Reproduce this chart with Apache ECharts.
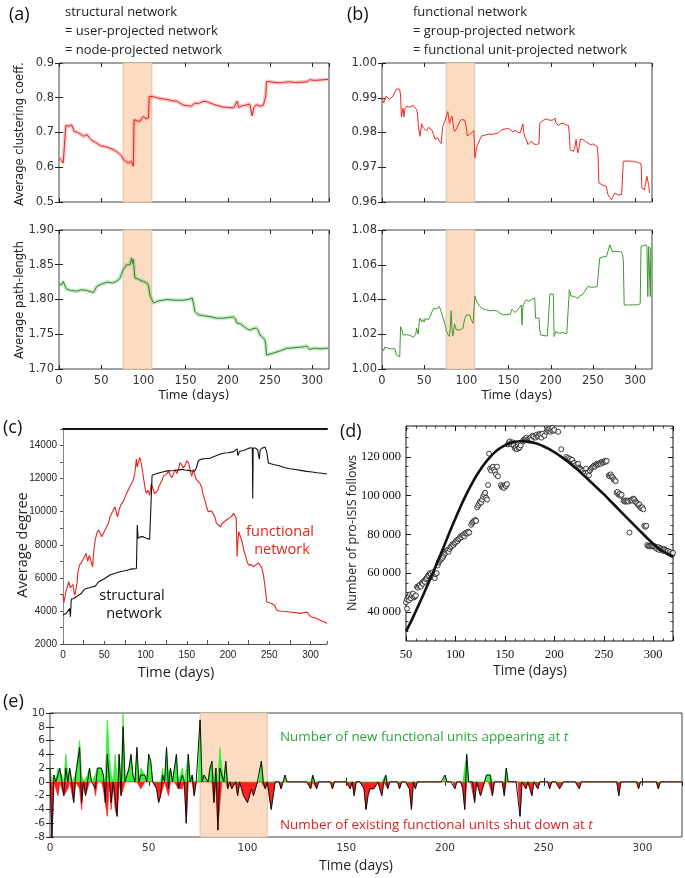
<!DOCTYPE html>
<html><head><meta charset="utf-8">
<script src="https://cdn.jsdelivr.net/npm/echarts@6/dist/echarts.min.js"></script>
<style>html,body{margin:0;padding:0;background:#fff}#c{width:685px;height:878px}</style>
</head><body><div id="c"></div>
<script>
// ---------------- DATA ----------------
const xTicksDays = [0, 50, 100, 150, 200, 250, 300];
const shadedPeriod = [76, 110];

// (a) structural network
const clusteringStructural = [[0,0.627],[3,0.62],[5,0.612],[7,0.607],[8,0.72],[9,0.722],[12,0.718],[15,0.722],[18,0.703],[22,0.7],[26,0.695],[29,0.689],[33,0.694],[36,0.685],[39,0.677],[43,0.672],[49,0.662],[54,0.66],[60,0.655],[65,0.65],[70,0.642],[73,0.636],[76,0.624],[79,0.617],[82,0.612],[84,0.615],[86,0.617],[88,0.603],[89,0.737],[91,0.736],[93,0.733],[96,0.732],[98,0.74],[100,0.746],[103,0.74],[106,0.742],[107,0.804],[109,0.806],[112,0.803],[116,0.8],[120,0.798],[128,0.795],[135,0.791],[140,0.79],[147,0.779],[152,0.777],[157,0.776],[161,0.785],[165,0.783],[170,0.789],[173,0.79],[178,0.786],[183,0.781],[187,0.778],[193,0.774],[200,0.772],[207,0.771],[209,0.774],[211,0.79],[213,0.772],[216,0.776],[220,0.778],[226,0.782],[228,0.78],[229,0.748],[231,0.772],[234,0.78],[238,0.776],[242,0.778],[244,0.795],[245,0.805],[246,0.847],[250,0.846],[256,0.844],[262,0.843],[266,0.844],[272,0.846],[280,0.844],[288,0.845],[294,0.846],[297,0.852],[302,0.85],[310,0.851],[319,0.853]];
const pathStructural = [[0,1.822],[3,1.821],[5,1.826],[7,1.82],[9,1.815],[14,1.813],[21,1.812],[27,1.814],[33,1.813],[38,1.811],[41,1.81],[43,1.815],[45,1.819],[50,1.822],[57,1.825],[63,1.824],[68,1.826],[72,1.83],[74,1.832],[76,1.843],[78,1.846],[80,1.85],[82,1.852],[84,1.85],[86,1.86],[87,1.852],[88,1.858],[90,1.831],[93,1.83],[96,1.828],[100,1.826],[104,1.824],[106,1.82],[108,1.805],[110,1.8],[112,1.795],[118,1.798],[128,1.8],[138,1.799],[147,1.799],[153,1.8],[158,1.802],[160,1.79],[161,1.783],[165,1.778],[170,1.777],[180,1.775],[187,1.773],[195,1.773],[200,1.774],[207,1.775],[209,1.772],[211,1.766],[215,1.765],[219,1.761],[223,1.758],[226,1.756],[230,1.758],[234,1.759],[236,1.756],[238,1.749],[241,1.746],[244,1.742],[245,1.735],[246,1.72],[248,1.72],[254,1.723],[262,1.726],[270,1.73],[274,1.73],[282,1.731],[290,1.732],[294,1.733],[297,1.728],[302,1.73],[310,1.729],[319,1.73]];

// (b) functional network
const clusteringFunctional = [[0,0.990],[2,0.9885],[3,0.989],[5,0.9905],[7,0.990],[9,0.9895],[11,0.9895],[13,0.9905],[15,0.990],[17,0.9925],[19,0.993],[21,0.9925],[22,0.9905],[23,0.9846],[25,0.987],[26,0.9845],[27,0.9866],[29,0.9875],[33,0.9873],[35,0.9872],[37,0.9878],[39,0.988],[41,0.9866],[42,0.9856],[43,0.982],[45,0.9789],[47,0.9825],[49,0.9813],[51,0.981],[53,0.9805],[55,0.9815],[57,0.981],[59,0.9808],[61,0.9795],[63,0.978],[66,0.9785],[68,0.9775],[70,0.9768],[72,0.9818],[74,0.983],[76,0.9827],[78,0.986],[80,0.9826],[81,0.9836],[83,0.9847],[85,0.981],[86,0.9803],[88,0.981],[90,0.9812],[92,0.983],[94,0.9837],[98,0.9836],[100,0.9815],[101,0.979],[104,0.9795],[106,0.98],[109,0.9805],[110,0.9727],[112,0.9755],[113,0.9762],[116,0.978],[118,0.979],[120,0.9794],[126,0.9795],[132,0.9795],[138,0.9799],[142,0.9808],[144,0.9813],[150,0.9812],[152,0.981],[155,0.9802],[158,0.9806],[161,0.98],[164,0.98],[167,0.9825],[168,0.98],[169,0.9789],[171,0.978],[173,0.9765],[175,0.977],[177,0.9775],[179,0.9768],[183,0.9765],[186,0.9768],[187,0.9827],[191,0.9835],[195,0.9839],[199,0.9835],[203,0.9836],[205,0.9842],[206,0.9829],[208,0.9833],[209,0.982],[212,0.9826],[215,0.9827],[218,0.9822],[221,0.982],[222,0.9795],[223,0.975],[225,0.9755],[227,0.9746],[229,0.9762],[230,0.978],[231,0.976],[232,0.9741],[234,0.976],[235,0.9781],[238,0.978],[241,0.9774],[244,0.977],[247,0.9765],[250,0.9767],[255,0.976],[256,0.9735],[257,0.9655],[262,0.9648],[266,0.9645],[267,0.963],[268,0.962],[270,0.9616],[272,0.9607],[274,0.961],[276,0.9626],[280,0.962],[284,0.9622],[285,0.962],[286,0.9717],[292,0.9718],[298,0.9717],[303,0.9714],[307,0.971],[308,0.964],[311,0.9635],[313,0.963],[314,0.9674],[315,0.966],[316,0.965],[317,0.9626]];
const pathFunctional = [[0,1.0119],[2,1.0105],[3,1.0125],[5,1.0122],[7,1.012],[9,1.011],[11,1.0115],[13,1.012],[15,1.0118],[17,1.008],[19,1.0078],[21,1.0071],[22,1.0244],[24,1.022],[25,1.0195],[27,1.0206],[29,1.0198],[31,1.0197],[33,1.0194],[35,1.0192],[37,1.0183],[39,1.0177],[40,1.02],[41,1.0235],[43,1.02],[44,1.027],[45,1.0292],[47,1.027],[48,1.0285],[50,1.027],[51,1.029],[53,1.029],[55,1.0285],[57,1.0302],[59,1.031],[61,1.035],[64,1.0345],[66,1.0355],[68,1.036],[70,1.033],[72,1.03],[74,1.027],[76,1.0225],[78,1.02],[80,1.0187],[81,1.025],[82,1.0335],[83,1.022],[84,1.019],[86,1.026],[88,1.0225],[90,1.0222],[93,1.0225],[96,1.0235],[98,1.029],[100,1.0312],[102,1.032],[104,1.031],[106,1.028],[108,1.0263],[110,1.0421],[112,1.039],[114,1.0375],[116,1.036],[118,1.035],[120,1.0345],[124,1.034],[128,1.0335],[132,1.0338],[136,1.0335],[140,1.032],[144,1.0312],[148,1.0312],[152,1.0315],[154,1.0345],[156,1.034],[158,1.0325],[160,1.0335],[163,1.0355],[165,1.0369],[166,1.0254],[167,1.036],[169,1.0385],[171,1.0398],[174,1.039],[177,1.04],[179,1.0395],[181,1.0408],[182,1.0292],[184,1.0295],[186,1.0295],[187,1.0225],[188,1.0196],[192,1.0192],[196,1.019],[198,1.019],[199,1.0431],[201,1.0431],[203,1.0431],[204,1.0187],[206,1.0215],[208,1.021],[210,1.0205],[212,1.0215],[214,1.021],[216,1.0202],[219,1.0203],[221,1.0205],[222,1.0456],[224,1.042],[226,1.0425],[228,1.0418],[230,1.0425],[232,1.0405],[234,1.042],[236,1.0415],[238,1.043],[240,1.0445],[242,1.046],[244,1.0475],[246,1.0465],[248,1.047],[252,1.0472],[255,1.0475],[257,1.0485],[258,1.0638],[262,1.0645],[266,1.0648],[268,1.068],[270,1.0715],[272,1.0705],[273,1.0675],[276,1.0677],[280,1.0675],[283,1.0677],[285,1.066],[286,1.0629],[287,1.0369],[292,1.0368],[298,1.0369],[303,1.037],[306,1.0375],[307,1.0706],[310,1.071],[313,1.0715],[314,1.07],[315,1.0417],[316,1.0706],[317,1.071],[318,1.0417],[318.5,1.07]];

// (c) average degree
const degreeStructural = [[0,3750],[2,3800],[4,3850],[6,3950],[8,4150],[9,3650],[10,4700],[13,4750],[16,4860],[19,4950],[22,5050],[25,5250],[28,5360],[32,5400],[36,5460],[39,5500],[41,5600],[43,5750],[45,5870],[50,5950],[57,6170],[63,6280],[69,6370],[75,6430],[81,6510],[85,6540],[89,6570],[90,9190],[91,8400],[94,8480],[97,8490],[101,8400],[105,8330],[107,8450],[108,12200],[112,12280],[118,12370],[122,12420],[126,12470],[131,12480],[136,12490],[140,12530],[144,12560],[148,12520],[152,12500],[156,12460],[160,12470],[162,12700],[164,13080],[168,13180],[172,13200],[178,13230],[184,13350],[191,13490],[196,13550],[200,13560],[204,13600],[207,13630],[209,13700],[211,13800],[212,13390],[214,13650],[219,13700],[223,13790],[227,13860],[229.5,13850],[230,10800],[230.5,13850],[233,13850],[236,13750],[237,13400],[238,13180],[239,13750],[242,13860],[245,13900],[247,13600],[249,12940],[255,12850],[262,12780],[268,12670],[275,12600],[282,12550],[288,12500],[295,12440],[302,12400],[308,12350],[314,12320],[320,12280]];
const degreeFunctional = [[0,4960],[1,4500],[2,4557],[3,5000],[4,5263],[5,5400],[7,5766],[8,5550],[9,5400],[10,5500],[12,5600],[13,5300],[14,4960],[15,5100],[17,5665],[18,6300],[20,6773],[22,6900],[24,7075],[26,7000],[28,7478],[29,7200],[30,7000],[32,7350],[34,7000],[36,6673],[37,7500],[39,8284],[41,8700],[43,8888],[45,8700],[47,8485],[49,8700],[51,8900],[53,9090],[55,9300],[57,9700],[59,9895],[61,10000],[63,10297],[65,9900],[66,9693],[68,10100],[70,10398],[72,10500],[74,10700],[76,11000],[77,11103],[79,11300],[81,11506],[83,11700],[85,11909],[87,12300],[89,13184],[90,12700],[91,12600],[92,13100],[93,13286],[95,12900],[96,12550],[98,11900],[100,11300],[101,11103],[103,11300],[105,11000],[107,11700],[109,11400],[111,11100],[113,11000],[115,11300],[116,11500],[118,11600],[120,11900],[122,12163],[124,12100],[126,12300],[128,12469],[130,12200],[132,12050],[134,12300],[136,12550],[138,12300],[140,12600],[142,12980],[144,12800],[146,12650],[148,12800],[150,13082],[152,12950],[153,12800],[155,12300],[156,12150],[158,12550],[160,12500],[161,12000],[163,11900],[166,11700],[168,11500],[170,11000],[172,10700],[174,10300],[176,9996],[178,9950],[180,10050],[182,10100],[184,9700],[186,9291],[188,9200],[191,9090],[193,9300],[195,9400],[198,9500],[201,9593],[204,9700],[207,9895],[209,9950],[210,9600],[211,7276],[212,8200],[213,8787],[215,8700],[217,8200],[219,7700],[221,7377],[223,7000],[225,6773],[228,6800],[231,6673],[234,6800],[237,6900],[239,6975],[241,6600],[243,6170],[245,5400],[247,4557],[250,4500],[253,4450],[255,4457],[257,4300],[259,4054],[262,4000],[266,3980],[272,3954],[278,3920],[284,3880],[288,3853],[292,3900],[296,3920],[298,3920],[300,3652],[304,3600],[308,3520],[312,3440],[316,3350],[320,3249]];

// (d) pro-ISIS follows
const followsObserved = [[50,45000],[51,41700],[51,46500],[52,47500],[53,48000],[53,46000],[54,49000],[55,47000],[56,48500],[57,49500],[58,47500],[59,48000],[60,48500],[61,53000],[62,52500],[63,53500],[64,54000],[65,53000],[66,55000],[67,54500],[68,56000],[69,55500],[70,57000],[71,57500],[72,58500],[73,59000],[74,60000],[75,59500],[76,58000],[77,60500],[78,58500],[79,57400],[80,59500],[81,60000],[82,64000],[83,65500],[84,66500],[85,67000],[86,67500],[87,68000],[88,69000],[89,70000],[90,70500],[91,71500],[92,72000],[93,71000],[94,72500],[95,73500],[96,74000],[97,75000],[98,74500],[99,75500],[100,76000],[101,77000],[102,76500],[103,77500],[104,78000],[105,79000],[106,78500],[107,79500],[108,80000],[109,79000],[110,80500],[111,81000],[112,80500],[113,81500],[114,81000],[116,85000],[117,86000],[118,86500],[119,87000],[120,87500],[121,87000],[122,94000],[123,95000],[124,96000],[125,97000],[126,96500],[127,98000],[128,99500],[129,100500],[130,101500],[131,99000],[132,98000],[133,105500],[134,121700],[135,114000],[136,113000],[137,114500],[138,115000],[139,113500],[140,112500],[141,111000],[142,115000],[143,110000],[146,105500],[147,104500],[148,105000],[149,104000],[150,105500],[151,105000],[152,106000],[153,126500],[154,127500],[155,128000],[156,127000],[157,126500],[158,127500],[159,126000],[160,124500],[161,125000],[162,124000],[163,125500],[164,124500],[165,125000],[166,126000],[168,128000],[169,129000],[170,128500],[171,129500],[172,130000],[173,129000],[174,128500],[175,129500],[176,130000],[177,129000],[178,131000],[179,130500],[181,130000],[182,131500],[183,130500],[184,131000],[185,132000],[186,131500],[187,130000],[188,132000],[190,131000],[192,133000],[193,134000],[194,133500],[195,134500],[196,133000],[197,134000],[198,135000],[199,133500],[200,134000],[204,133000],[207,124000],[212,120000],[213,119000],[214,119500],[215,118500],[216,119000],[217,118000],[218,118500],[219,116500],[220,117000],[221,115500],[222,116000],[223,115000],[224,116500],[225,114500],[226,114000],[227,113500],[228,112500],[229,113000],[230,112000],[231,111500],[232,114000],[233,111000],[234,112000],[235,110500],[236,113000],[237,114000],[238,114500],[239,115000],[240,115500],[241,115000],[242,116000],[243,116500],[244,116000],[245,116500],[246,117000],[247,116500],[248,117500],[249,117000],[250,117500],[251,118000],[252,117500],[253,118000],[255,110500],[256,110000],[257,111000],[258,110000],[259,109500],[260,108500],[261,108000],[262,107500],[263,101500],[264,102000],[265,100500],[266,101000],[267,100000],[268,100500],[270,97500],[271,97000],[272,97500],[273,97000],[274,97500],[275,97000],[276,81000],[277,97500],[278,98000],[279,97500],[280,98500],[281,98000],[282,97000],[283,96500],[284,96000],[285,95000],[286,95500],[287,94000],[288,93500],[289,94000],[290,93000],[291,84500],[292,84000],[293,84500],[294,74500],[295,74000],[296,74000],[297,73800],[298,74200],[299,74000],[300,73800],[301,74000],[302,73500],[303,73000],[304,72500],[305,73500],[306,72000],[307,73000],[308,72500],[309,72000],[310,71500],[311,72500],[312,72000],[313,71500],[314,71000],[315,71500],[316,70500],[317,71000],[318,70000],[319,69500],[320,70500]];
const followsFit = [[50,30000],[55,35000],[60,40500],[65,46000],[70,51800],[75,57600],[80,63600],[85,69800],[90,76000],[95,82300],[100,88300],[105,94200],[110,99700],[115,104700],[120,109300],[125,113300],[130,116900],[135,119900],[140,122500],[145,124500],[150,126000],[155,127100],[160,127800],[165,128100],[170,128100],[175,127800],[180,127200],[185,126400],[190,125300],[195,124000],[200,122500],[205,120800],[210,119000],[215,117100],[220,115000],[225,112800],[230,110400],[235,108000],[240,105600],[245,103200],[250,100800],[255,98200],[260,95600],[265,93000],[270,90400],[275,87800],[280,85200],[285,82600],[290,80100],[295,77600],[300,75200],[305,73000],[310,71200],[315,69800],[320,68600]];
const followsYTicks = [40000, 60000, 80000, 100000, 120000];

// (e) functional units appearing / shut down per day
const newUnits = [[0,2],[2,1],[4,2],[5,2],[6,1],[8,4],[9,1],[10,2],[13,1],[14,1],[15,6],[16,1],[19,1],[20,2],[23,1],[24,2],[25,2],[26,2],[27,2],[29,9],[30,4],[31,1],[33,4],[35,4],[37,10],[40,2],[41,4],[42,1],[44,5],[46,2],[47,2],[48,1],[50,4],[51,3],[57,2],[59,5],[60,1],[61,2],[64,4],[67,2],[70,4],[72,1],[76,9],[78,1],[79,1],[81,2],[82,3],[84,2],[86,5],[87,2],[89,3],[107,3],[119,1],[133,1],[170,1],[200,1],[211,4],[221,1],[222,1],[223,1],[231,2]];
const shutUnits = [[1,8],[4,2],[6,1],[7,2],[8,2],[9,1],[12,3],[15,1],[16,4],[18,2],[19,1],[23,2],[27,1],[28,3],[29,5],[31,4],[33,4],[34,5],[36,2],[37,2],[46,1],[47,1],[54,1],[55,3],[56,2],[57,1],[60,2],[65,1],[66,1],[67,1],[69,6],[73,2],[83,3],[85,7],[86,3],[90,1],[92,1],[93,1],[95,2],[98,2],[99,2],[100,3],[101,3],[102,1],[103,2],[104,2],[109,1],[112,4],[113,2],[117,1],[132,1],[135,1],[143,1],[152,1],[154,2],[159,1],[160,4],[161,2],[162,1],[163,1],[164,1],[165,1],[168,2],[171,1],[177,1],[182,1],[183,4],[185,1],[205,1],[209,1],[210,4],[215,3],[217,1],[218,2],[219,1],[224,2],[230,2],[238,5],[241,1],[244,2],[247,1],[253,1],[258,1],[259,1],[268,1],[288,2],[298,1],[308,1]];
const eDayRange = [0, 320];

// ---------------- BUILD ----------------
const chart = echarts.init(document.getElementById('c'), null, {renderer: 'canvas'});
const MPL = 'DejaVu Sans';
const CAL = '"Open Sans", "Noto Sans", sans-serif';
const grids = [
  {left:59, top:63, width:270, height:139},
  {left:59, top:230, width:270, height:139},
  {left:382, top:63, width:270, height:139},
  {left:382, top:230, width:270, height:139},
  {left:63, top:429, width:264, height:215},
  {left:406, top:426, width:267, height:215},
  {left:50, top:713, width:632, height:124}
];
const gridOpts = grids.map((g, i) => Object.assign({
  show: (i !== 4), borderColor: (i === 5 ? '#111' : '#444'), borderWidth: 1, backgroundColor: 'transparent'
}, g));

const xAxes = [], yAxes = [];
function mplAxes(g, xr, xInt, yr, yInt, showX, dec, fs, tickLen) {
  const tick = {show:true, inside:true, length:tickLen||4, lineStyle:{color:'#222', width:1}};
  const lab = {fontFamily:MPL, fontSize:fs, color:'#333', showMaxLabel:false};
  const ylab = {fontFamily:MPL, fontSize:fs, color:'#333'};
  const xi = xAxes.length, yi = yAxes.length;
  xAxes.push({type:'value', gridIndex:g, position:'bottom', min:xr[0], max:xr[1], interval:xInt,
    axisLine:{show:false}, axisTick:tick, splitLine:{show:false},
    axisLabel: showX ? Object.assign({margin:6}, lab) : {show:false}});
  xAxes.push({type:'value', gridIndex:g, position:'top', min:xr[0], max:xr[1], interval:xInt,
    axisLine:{show:false}, axisTick:tick, splitLine:{show:false}, axisLabel:{show:false}});
  yAxes.push({type:'value', gridIndex:g, position:'left', min:yr[0], max:yr[1], interval:yInt,
    axisLine:{show:false}, axisTick:tick, splitLine:{show:false},
    axisLabel: Object.assign({margin:5, formatter: v => v.toFixed(dec)}, ylab)});
  yAxes.push({type:'value', gridIndex:g, position:'right', min:yr[0], max:yr[1], interval:yInt,
    axisLine:{show:false}, axisTick:tick, splitLine:{show:false}, axisLabel:{show:false}});
  return [xi, yi];
}
const A1 = mplAxes(0, [0,320], 50, [0.5,0.9], 0.1, false, 1, 11.5);
const A2 = mplAxes(1, [0,320], 50, [1.70,1.90], 0.05, true, 2, 11.5);
const B1 = mplAxes(2, [0,320], 50, [0.96,1.00], 0.01, false, 2, 11.5);
const B2 = mplAxes(3, [0,320], 50, [1.00,1.08], 0.02, true, 2, 11.5);

// (c) axes
const C = [xAxes.length, yAxes.length];
xAxes.push({type:'value', gridIndex:4, position:'bottom', min:0, max:320, interval:50,
  axisLine:{show:true, lineStyle:{color:'#555', width:1}},
  axisTick:{show:true, inside:true, length:3, lineStyle:{color:'#555'}},
  minorTick:{show:true, splitNumber:2, length:4, lineStyle:{color:'#555'}},
  splitLine:{show:false}, axisLabel:{fontFamily:'Liberation Sans', fontSize:10, color:'#222', margin:6, showMaxLabel:false}});
xAxes.push({type:'value', gridIndex:4, position:'top', min:0, max:320, interval:50,
  axisLine:{show:true, lineStyle:{color:'#111', width:2}}, axisTick:{show:false}, splitLine:{show:false}, axisLabel:{show:false}});
yAxes.push({type:'value', gridIndex:4, position:'left', min:2000, max:15000, interval:2000,
  axisLine:{show:true, lineStyle:{color:'#555', width:1}},
  axisTick:{show:true, inside:false, length:3, lineStyle:{color:'#555'}},
  minorTick:{show:true, splitNumber:2, length:3, lineStyle:{color:'#555'}},
  splitLine:{show:false}, axisLabel:{fontFamily:'Liberation Sans', fontSize:10, color:'#222', margin:6, showMaxLabel:false, formatter: v => String(v)}});
yAxes.push({type:'value', gridIndex:4, position:'right', min:2000, max:15000, interval:2000,
  axisLine:{show:true, lineStyle:{color:'#888', width:1}}, axisTick:{show:false}, splitLine:{show:false}, axisLabel:{show:false}});

// (d) axes
const D = [xAxes.length, yAxes.length];
const dTick = {show:true, inside:true, length:5, lineStyle:{color:'#111', width:1}};
const dMinor = {show:true, splitNumber:5, length:2.5, lineStyle:{color:'#111', width:0.8}};
const serif = {fontFamily:'Liberation Serif', fontSize:12.5, color:'#111'};
xAxes.push({type:'value', gridIndex:5, position:'bottom', min:50, max:320, interval:50,
  axisLine:{show:false}, axisTick:dTick, minorTick:dMinor, splitLine:{show:false},
  axisLabel:Object.assign({margin:7, showMaxLabel:false}, serif)});
xAxes.push({type:'value', gridIndex:5, position:'top', min:50, max:320, interval:50,
  axisLine:{show:false}, axisTick:dTick, minorTick:dMinor, splitLine:{show:false}, axisLabel:{show:false}});
const fmtThousands = v => { const s = String(Math.round(v)); return s.length > 3 ? s.slice(0, s.length-3) + '\u2009' + s.slice(-3) : s; };
const minorY = [];
for (const t of followsYTicks) { minorY.push(t - 15000, t - 10000, t - 5000); }
minorY.push(125000, 130000, 135000);
const yMinorVals = minorY.filter(v => v > 25000 && v < 136000);
yAxes.push({type:'value', gridIndex:5, position:'left', min:25000, max:136000,
  axisLine:{show:false}, axisTick:Object.assign({customValues:followsYTicks}, dTick), splitLine:{show:false},
  axisLabel:Object.assign({customValues:followsYTicks, margin:5, formatter: fmtThousands}, serif)});
yAxes.push({type:'value', gridIndex:5, position:'right', min:25000, max:136000,
  axisLine:{show:false}, axisTick:Object.assign({customValues:followsYTicks}, dTick), splitLine:{show:false}, axisLabel:{show:false}});
yAxes.push({type:'value', gridIndex:5, position:'left', min:25000, max:136000,
  axisLine:{show:false}, axisTick:{show:true, inside:true, length:2.5, customValues:yMinorVals, lineStyle:{color:'#111', width:0.8}},
  splitLine:{show:false}, axisLabel:{show:false, customValues:yMinorVals}});
yAxes.push({type:'value', gridIndex:5, position:'right', min:25000, max:136000,
  axisLine:{show:false}, axisTick:{show:true, inside:true, length:2.5, customValues:yMinorVals, lineStyle:{color:'#111', width:0.8}},
  splitLine:{show:false}, axisLabel:{show:false, customValues:yMinorVals}});

// (e) axes
const E = mplAxes(6, [0,320], 50, [-8,10], 2, true, 0, 10.5, 4);

// helpers
const shadeArea = {silent:true, itemStyle:{color:'#fbdcc3', borderColor:'#e2c3a5', borderWidth:1},
  data:[[{xAxis:shadedPeriod[0]},{xAxis:shadedPeriod[1]}]]};
function lineS(ax, data, color, width, z, extra) {
  return Object.assign({type:'line', xAxisIndex:ax[0], yAxisIndex:ax[1], data:data, showSymbol:false, symbol:'none',
    lineStyle:{color:color, width:width}, itemStyle:{color:color}, z:z, silent:true, animation:false}, extra||{});
}

// (e) per-day series
const newMap = {}; newUnits.forEach(p => newMap[p[0]] = p[1]);
const shutMap = {}; shutUnits.forEach(p => shutMap[p[0]] = p[1]);
const eGreen = [], eRed = [], eNet = [];
for (let d = eDayRange[0]; d <= eDayRange[1]; d++) {
  const n = newMap[d] || 0, s = shutMap[d] || 0;
  eGreen.push([d, n]); eRed.push([d, -s]); eNet.push([d, n - s]);
}

const series = [
  lineS(A1, clusteringStructural, 'rgba(240,110,110,0.35)', 4, 2, {markArea:shadeArea}),
  lineS(A1, clusteringStructural, '#e8231f', 1, 3),
  lineS(A2, pathStructural, 'rgba(110,190,110,0.35)', 4, 2, {markArea:shadeArea}),
  lineS(A2, pathStructural, '#2a8a26', 1, 3),
  lineS(B1, clusteringFunctional, '#ee2a22', 1, 3, {markArea:shadeArea}),
  lineS(B2, pathFunctional, '#3c9a2e', 1, 3, {markArea:shadeArea}),
  lineS(C, degreeFunctional, '#e3261c', 1.1, 3),
  lineS(C, degreeStructural, '#111111', 1.1, 4),
  lineS(D, followsFit, '#111111', 2.6, 4, {smooth:true}),
  {type:'scatter', xAxisIndex:D[0], yAxisIndex:D[1], data:followsObserved, symbol:'circle', symbolSize:5,
   itemStyle:{color:'#ffffff', borderColor:'#111', borderWidth:1}, z:3, silent:true, animation:false},
  lineS(E, eGreen, '#33e833', 0.8, 3, {areaStyle:{color:'#3cf03c', opacity:1}, markArea:shadeArea}),
  lineS(E, eRed, '#ff2020', 0.8, 3, {areaStyle:{color:'#ff2020', opacity:1}}),
  lineS(E, eNet, '#111111', 1, 5)
];

// texts
function txt(x, y, text, font, fill, align, rot, rich) {
  const el = {type:'text', x:x, y:y, z:100, silent:true,
    style:{text:text, font:font, fill:fill, align:align||'center', verticalAlign:'middle'}};
  if (rot) el.rotation = rot;
  if (rich) el.style.rich = rich;
  return el;
}
const R90 = Math.PI / 2;
const graphics = [
  txt(9, 15, '(a)', '18px ' + CAL, '#111', 'left'),
  txt(65, 12, 'structural network', '13px ' + CAL, '#222', 'left'),
  txt(65, 31, '= user-projected network', '13px ' + CAL, '#222', 'left'),
  txt(65, 50, '= node-projected network', '13px ' + CAL, '#222', 'left'),
  txt(347, 15, '(b)', '18px ' + CAL, '#111', 'left'),
  txt(413, 12, 'functional network', '13px ' + CAL, '#222', 'left'),
  txt(413, 31, '= group-projected network', '13px ' + CAL, '#222', 'left'),
  txt(413, 50, '= functional unit-projected network', '13px ' + CAL, '#222', 'left'),
  txt(20, 134, 'Average clustering coeff.', '11.5px "' + MPL + '"', '#222', 'center', R90),
  txt(20, 300, 'Average path-length', '11.5px "' + MPL + '"', '#222', 'center', R90),
  txt(194, 396, 'Time (days)', '12px "' + MPL + '"', '#222'),
  txt(517, 396, 'Time (days)', '12px "' + MPL + '"', '#222'),
  txt(3, 428, '(c)', '18px ' + CAL, '#111', 'left'),
  txt(23, 545, 'Average degree', '14.5px ' + CAL, '#222', 'center', R90),
  txt(176, 673, 'Time (days)', '14.5px ' + CAL, '#222'),
  txt(132, 596, 'structural', '14.5px ' + CAL, '#111'),
  txt(134, 614, 'network', '14.5px ' + CAL, '#111'),
  txt(280, 532, 'functional', '14.5px ' + CAL, '#e3261c'),
  txt(282, 550, 'network', '14.5px ' + CAL, '#e3261c'),
  txt(340, 432, '(d)', '18px ' + CAL, '#111', 'left'),
  txt(352, 533, 'Number of pro-ISIS follows', '12.5px ' + CAL, '#222', 'center', R90),
  txt(530, 671, 'Time (days)', '14px ' + CAL, '#222'),
  txt(3, 702, '(e)', '18px ' + CAL, '#111', 'left'),
  txt(280, 737, 'Number of new functional units appearing at {i|t}', '13.4px ' + CAL, '#2aa83a', 'left', 0,
      {i:{fontStyle:'italic', fontSize:13.4, fontFamily:'"Open Sans"', fill:'#2aa83a'}}),
  txt(280, 825, 'Number of existing functional units shut down at {i|t}', '13.4px ' + CAL, '#e02020', 'left', 0,
      {i:{fontStyle:'italic', fontSize:13.4, fontFamily:'"Open Sans"', fill:'#e02020'}}),
  txt(356, 866, 'Time (days)', '14px ' + CAL, '#222')
];

chart.setOption({
  animation:false,
  backgroundColor:'#ffffff',
  grid:gridOpts,
  xAxis:xAxes,
  yAxis:yAxes,
  series:series,
  graphic:graphics
});
</script></body></html>
